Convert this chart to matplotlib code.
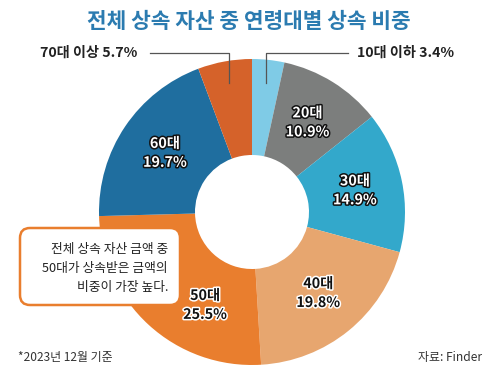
import numpy as np
import matplotlib
matplotlib.use("Agg")
import matplotlib.pyplot as plt
import matplotlib.patheffects as pe
from matplotlib.patches import FancyBboxPatch

plt.rcParams['font.family'] = ['Noto Sans CJK KR', 'DejaVu Sans']

# ---- data ----
categories = ['10대 이하', '20대', '30대', '40대', '50대', '60대', '70대 이상']
values = [3.4, 10.9, 14.9, 19.8, 25.5, 19.7, 5.7]
colors = ['#7FCBE6', '#7C7E7D', '#33A8CB', '#E7A66F', '#E97E2E', '#1F6E9F', '#D5622A']
inside_style = ['out', 'white', 'white', 'black', 'black', 'white', 'out']
title = '전체 상속 자산 중 연령대별 상속 비중'
callout = '전체 상속 자산 금액 중\n50대가 상속받은 금액의\n비중이 가장 높다.'
footnote = '*2023년 12월 기준'
source = '자료: Finder'

W, H = 500, 380
fig = plt.figure(figsize=(5, 3.8), dpi=100)
ax = fig.add_axes([0, 0, 1, 1])

cx, cy, R = 252, H - 212, 153
inner = 57
wedges, _ = ax.pie(values, colors=colors, startangle=90, counterclock=False,
                   center=(cx, cy), radius=R, frame=True,
                   wedgeprops=dict(width=R - inner, linewidth=0))
ax.set_xlim(0, W)
ax.set_ylim(0, H)
ax.set_aspect('equal')
ax.axis('off')

# label offsets (to move 50대 label away from the callout)
label_shift = {4: (24, -16)}
total = sum(values)
cum = np.cumsum([0] + values[:-1])
for i, (cat, v) in enumerate(zip(categories, values)):
    mid = (cum[i] + v / 2) / total * 2 * np.pi
    if inside_style[i] == 'out':
        continue
    r = 105
    x = cx + r * np.sin(mid)
    y = cy + r * np.cos(mid)
    dx, dy = label_shift.get(i, (0, 0))
    x += dx; y += dy
    if inside_style[i] == 'white':
        fc, ec = 'white', '#111111'
    else:
        fc, ec = '#111111', 'white'
    ax.text(x, y, f'{cat}\n{v:.1f}%', ha='center', va='center', fontsize=10.3,
            color=fc, linespacing=1.45, fontweight='bold',
            path_effects=[pe.withStroke(linewidth=2.2, foreground=ec)])

# outside labels with leader lines
line_y = H - 52.7
end_y = H - 83
for i in (0, 6):
    mid = (cum[i] + values[i] / 2) / total * 2 * np.pi
    ex = cx + (end_y - cy) * np.tan(mid)
    if i == 0:
        ax.plot([ex, ex, 348], [end_y, line_y, line_y], color='#555555', lw=0.9)
        ax.text(357, H - 53, f'{categories[i]} {values[i]:.1f}%', ha='left', va='center',
                fontsize=10.2, fontweight='bold', color='#222222')
    else:
        ax.plot([ex, ex, 150], [end_y, line_y, line_y], color='#555555', lw=0.9)
        ax.text(137, H - 53, f'{categories[i]} {values[i]:.1f}%', ha='right', va='center',
                fontsize=10.2, fontweight='bold', color='#222222')

# title
ax.text(249, H - 21, title, ha='center', va='center', fontsize=15.4,
        fontweight='heavy', color='#2B7BB0')

# callout box
box = FancyBboxPatch((20, H - 305), 160, 77, boxstyle='round,pad=0,rounding_size=10',
                     facecolor='white', edgecolor='#E97E2E', linewidth=1.8, zorder=5)
ax.add_patch(box)
ax.text(168, H - 268.5, callout, ha='right', va='center', fontsize=9.2,
        color='#222222', linespacing=1.6, zorder=6)

# footer
ax.text(18, H - 357, footnote, ha='left', va='center', fontsize=8.6, color='#333333')
ax.text(482, H - 357, source, ha='right', va='center', fontsize=8.6, color='#333333')

fig.savefig('out.png', dpi=100, facecolor='white')
